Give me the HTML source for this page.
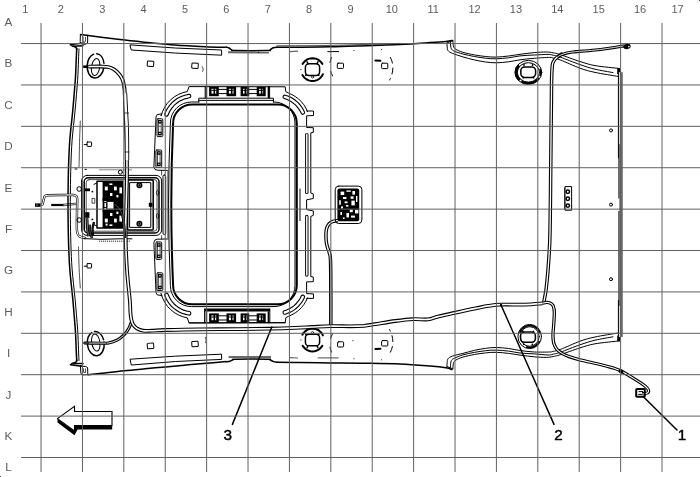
<!DOCTYPE html>
<html><head><meta charset="utf-8"><title>Headliner harness routing</title>
<style>
html,body{margin:0;padding:0;background:#fff;}
body{width:700px;height:477px;overflow:hidden;}
svg{display:block;filter:grayscale(1);}
.g{stroke:#606060;stroke-width:1;fill:none;}
.lab{font-family:"Liberation Sans",Arial,sans-serif;font-size:11px;fill:#5c5c5c;text-anchor:middle;opacity:0.999;}
.num{font-family:"Liberation Sans",Arial,sans-serif;font-size:15.3px;fill:#000;text-anchor:middle;stroke:#000;stroke-width:0.45;opacity:0.999;}
.k{stroke:#000;fill:none;stroke-width:1;stroke-linecap:round;stroke-linejoin:round;}
.t{stroke:#000;fill:none;stroke-width:0.7;stroke-linecap:round;stroke-linejoin:round;}
.h{stroke:#000;fill:none;stroke-width:1.5;stroke-linecap:round;stroke-linejoin:round;}
.b{stroke:#000;fill:none;stroke-width:2;stroke-linecap:round;stroke-linejoin:round;}
.hb{stroke:#000;fill:none;stroke-linecap:butt;stroke-linejoin:round;}
.hw{stroke:#fff;fill:none;stroke-linecap:butt;stroke-linejoin:round;}
.f{fill:#000;stroke:none;}
.wf{fill:#fff;stroke:#000;stroke-width:0.9;stroke-linejoin:round;}
.gy{stroke:#777;fill:none;stroke-width:1;}
</style></head><body>
<svg width="700" height="477" viewBox="0 0 700 477">
<rect width="700" height="477" fill="#fff"/>
<path class="h" d="M80.6,34.6 C87.2,35.4 108.4,38.2 120.0,39.6 C131.6,41.0 140.8,41.8 150.0,42.7 C159.2,43.6 165.8,44.3 175.0,45.0 C184.2,45.7 196.4,46.3 205.0,46.7 C213.6,47.1 223.1,47.2 226.7,47.3" />
<path class="h" d="M226.7,47.3 C227.1,47.4 228.1,47.5 229.0,48.0 C229.9,48.5 231.0,49.6 232.0,50.0 C233.0,50.4 229.2,50.5 235.0,50.6 C240.8,50.7 261.2,50.7 267.0,50.6 C272.8,50.5 269.1,50.4 270.0,50.0 C270.9,49.6 271.8,48.4 272.6,48.0 C273.4,47.6 274.3,47.5 275.0,47.4 C275.7,47.3 276.7,47.3 277.0,47.3" />
<path class="h" d="M277.0,47.3 C280.8,47.3 291.2,47.3 300.0,47.2 C308.8,47.1 320.0,47.0 330.0,46.8 C340.0,46.6 348.3,46.3 360.0,45.9 C371.7,45.5 388.3,44.9 400.0,44.4 C411.7,43.9 422.3,43.1 430.0,42.6 C437.7,42.1 442.2,41.8 446.0,41.4 C449.8,41.0 451.4,40.6 452.5,40.4" />
<path class="t" d="M277.0,45.8 C285.8,45.7 309.5,45.8 330.0,45.4 C350.5,45.0 388.3,43.7 400.0,43.4" />
<path class="k" d="M80.4,34.4 L80.2,41.5 Q80.5,44.5 83.5,44.4 L86,44 Q87.8,43.5 87.7,41 L87.6,35.2"/>
<path class="t" d="M83.2,37 Q82.6,40.5 83.6,42.6 Q85.4,42.8 85.6,40 L85.4,37.2"/>
<path class="h" d="M70.4,44.6 L81.6,43.2 M72.6,46.2 L83,45.8 M70.4,44.6 L72.6,46.2"/>
<path class="h" d="M76.9,49.4 Q76.8,47 73.4,46.2"/>
<path class="h" d="M76.7,48.8 C76.6,50.7 76.4,54.8 76.2,60.0 C76.0,65.2 75.9,71.7 75.3,80.0 C74.7,88.3 73.7,100.0 72.8,110.0 C71.9,120.0 70.5,130.8 69.8,140.0 C69.1,149.2 68.9,156.7 68.6,165.0 C68.3,173.3 68.2,183.4 68.1,190.0 C68.0,196.6 68.0,199.8 68.0,204.7 C68.0,209.6 68.0,212.8 68.1,219.4 C68.2,226.0 68.3,236.1 68.6,244.4 C68.9,252.7 69.1,260.2 69.8,269.4 C70.5,278.6 71.9,289.4 72.8,299.4 C73.7,309.4 74.7,321.1 75.3,329.4 C75.9,337.7 76.0,344.2 76.2,349.4 C76.4,354.6 76.6,358.7 76.7,360.6" />
<path class="k" d="M79.0,48.9 C78.9,50.8 78.7,54.9 78.5,60.1 C78.3,65.3 78.2,71.8 77.6,80.2 C77.0,88.5 76.0,100.2 75.1,110.2 C74.2,120.2 72.8,131.0 72.1,140.2 C71.4,149.3 71.2,156.8 70.9,165.1 C70.6,173.4 70.5,183.4 70.4,190.0 C70.3,196.6 70.3,199.8 70.3,204.7 C70.3,209.6 70.3,212.8 70.4,219.4 C70.5,226.0 70.6,236.0 70.9,244.3 C71.2,252.6 71.4,260.1 72.1,269.2 C72.8,278.4 74.2,289.2 75.1,299.2 C76.0,309.2 77.0,320.9 77.6,329.2 C78.2,337.6 78.3,344.1 78.5,349.3 C78.7,354.5 78.9,358.6 79.0,360.5" stroke-width="0.8"/>
<path class="t" d="M80.3,121.0 C80.2,124.2 79.8,133.5 79.6,140.0 C79.4,146.5 79.3,155.5 79.2,160.0 C79.1,164.5 79.0,165.8 79.0,167.0" />
<path class="t" d="M78.5,247.0 C78.6,250.8 78.9,263.2 79.2,270.0 C79.5,276.8 80.1,285.0 80.3,288.0" />
<path class="k" d="M80.4,366 L80.8,372.8 Q81,375 83.6,374.9 L87.8,374.6 L87.6,367.6 Q86,366 83,366.2 Z"/>
<path class="t" d="M83.4,368.6 L83.6,372.4 L85.6,372.4 L85.4,368.8"/>
<path class="h" d="M70.4,364.8 L81.6,366.2 M72.6,363.2 L83,363.6 M70.4,364.8 L72.6,363.2"/>
<path class="h" d="M76.9,360 Q76.8,362.4 73.4,363.2"/>
<path class="h" d="M88.0,374.8 C90.8,374.5 99.0,373.6 105.0,372.9 C111.0,372.2 117.6,371.4 124.3,370.7 C131.0,370.0 138.2,369.4 145.0,368.8 C151.8,368.2 158.6,367.5 165.4,366.9 C172.2,366.3 179.1,365.6 186.0,365.0 C192.9,364.4 199.9,363.8 206.6,363.2 C213.3,362.6 222.8,361.9 226.0,361.6" />
<path class="h" d="M226.0,361.8 C226.7,361.7 228.8,361.5 230.0,361.2 C231.2,360.9 232.0,360.1 233.0,359.8 C234.0,359.5 230.3,359.3 236.0,359.2 C241.7,359.1 261.3,359.1 267.0,359.2 C272.7,359.3 269.0,359.4 270.0,359.8 C271.0,360.2 271.8,361.0 273.0,361.4 C274.2,361.8 276.3,362.1 277.0,362.2" />
<path class="h" d="M277.0,362.2 C280.8,362.3 291.2,362.5 300.0,362.6 C308.8,362.7 320.0,362.9 330.0,363.0 C340.0,363.1 348.3,363.0 360.0,363.2 C371.7,363.4 388.3,363.5 400.0,364.0 C411.7,364.5 422.3,365.4 430.0,366.0 C437.7,366.6 442.3,367.2 446.0,367.8 C449.7,368.4 451.0,369.3 452.0,369.6" />
<path class="k" d="M130.3,44.9 Q175,48.6 221.6,50 L221.6,55.2 Q175,53.6 131.6,50 Z"/>
<path d="M228,52.2 L269,52.6" stroke="#666" stroke-width="2" fill="none"/>
<path class="k" d="M131.7,365 Q175,360.8 221.6,359.4 L221.6,354.2 Q175,355.6 130.4,359.2 Z"/>
<path d="M228.6,357.1 L271,357" stroke="#6a6a6a" stroke-width="2" fill="none"/>
<rect class="k" x="147.3" y="61.2" width="6.4" height="5.1" rx="0.8" transform="rotate(4 150.5 63.8)"/>
<rect class="k" x="191.8" y="63.2" width="6.4" height="5.2" rx="0.8" transform="rotate(4 195.0 65.8)"/>
<rect class="k" x="337.3" y="63.2" width="6.2" height="5.2" rx="0.8" transform="rotate(0 340.4 65.8)"/>
<rect class="k" x="381.6" y="63.2" width="6.2" height="5.4" rx="0.8" transform="rotate(0 384.7 65.9)"/>
<rect class="k" x="147.3" y="343.2" width="6.4" height="5.4" rx="0.8" transform="rotate(-4 150.5 345.9)"/>
<rect class="k" x="191.8" y="341.4" width="6.4" height="5.2" rx="0.8" transform="rotate(-4 195.0 344.0)"/>
<rect class="k" x="337.6" y="341.8" width="6.0" height="5.2" rx="0.8" transform="rotate(0 340.6 344.4)"/>
<rect class="k" x="381.6" y="340.6" width="6.2" height="5.4" rx="0.8" transform="rotate(0 384.7 343.3)"/>
<path class="t" d="M202.2,66.6 C202.4,67.0 203.1,68.2 203.2,69.0 C203.3,69.8 202.7,71.0 202.6,71.4" />
<path class="b" d="M375.4,60.6 L380.4,60.8"/>
<path class="k" stroke-dasharray="6 5" d="M390.4,57.4 Q395.8,68 389.6,80"/>
<path class="k" stroke-dasharray="5 9" d="M331.4,57.6 Q327,68 334.6,79.4"/>
<path class="k" d="M327.8,51.6 L338.6,51.6"/>
<path class="b" d="M375.4,349 L380.4,348.8"/>
<path class="k" stroke-dasharray="6 5" d="M390.4,352.2 Q395.8,341.6 389.6,329.6"/>
<path class="k" stroke-dasharray="5 9" d="M331.4,352 Q327,341.6 334.6,330.2"/>
<path d="M317.7,357.9 L338.6,357.9" stroke="#666" stroke-width="1.2"/>
<path d="M290,357.6 L298,358" stroke="#666" stroke-width="1.2"/>
<path d="M290,51.6 L298,51.2" stroke="#666" stroke-width="1.2"/>
<ellipse class="h" cx="95.6" cy="65.8" rx="8.4" ry="12.2" transform="rotate(5.5 95.6 65.8)" stroke-dasharray="45.5 3 13 2.5"/>
<ellipse class="k" stroke-width="1.2" cx="95.8" cy="67.0" rx="4.1" ry="8.6" transform="rotate(9 95.6 65.8)"/>
<ellipse class="h" cx="95.8" cy="343.7" rx="8.4" ry="12.2" transform="rotate(-5.5 95.8 343.7)" stroke-dasharray="45.5 3 13 2.5"/>
<ellipse class="k" stroke-width="1.2" cx="96.0" cy="342.5" rx="4.1" ry="8.6" transform="rotate(-9 95.8 343.7)"/>
<path d="M83.2,66.7 L89,66.7" stroke="#000" stroke-width="2.6"/>
<path class="hb" stroke-width="3.0999999999999996" d="M84.0,343.0 C86.7,343.0 95.9,343.2 100.0,343.2 C104.1,343.2 105.8,343.5 108.6,343.0 C111.4,342.5 114.3,341.6 117.0,340.2 C119.7,338.8 122.5,336.4 124.5,334.4 C126.5,332.4 127.9,330.0 129.0,328.0 C130.1,326.0 130.8,323.4 131.2,322.5"/>
<path class="hw" stroke-width="0.8999999999999999" d="M84.0,343.0 C86.7,343.0 95.9,343.2 100.0,343.2 C104.1,343.2 105.8,343.5 108.6,343.0 C111.4,342.5 114.3,341.6 117.0,340.2 C119.7,338.8 122.5,336.4 124.5,334.4 C126.5,332.4 127.9,330.0 129.0,328.0 C130.1,326.0 130.8,323.4 131.2,322.5"/>
<path d="M83.2,343 L107,343.2" stroke="#333" stroke-width="2.2"/>
<path d="M89,343.1 L106,343.2" stroke="#ccc" stroke-width="0.8"/>
<path class="b" stroke-width="1.8" d="M192.1,104.4 L277.8,104.4 A19,19 0 0 1 296.8,123.4 L296.8,285.3 A19,19 0 0 1 277.8,304.3 L192.1,304.3 A19,19 0 0 1 173.1,285.3 Q169.5,204.4 173.1,123.4 A19,19 0 0 1 192.1,104.4 Z"/>
<path class="k" stroke-width="0.9" d="M198.8,102 L191.4,102 A21,21 0 0 0 170.4,123 Q166.8,204.4 170.4,285.6 A21,21 0 0 0 191.4,306.6 L274,306.6 A21,21 0 0 0 295,285.6 L295,123 A21,21 0 0 0 274,102 L273.4,102"/>
<path class="k" d="M300.0,189.0 L300.0,220.6" />
<path class="k" d="M167.2,170.4 L157.2,170.2 L155.0,169.4 L153.9,167.0 L156.0,117.0 L157.2,114.6 L161.8,113.8 L161.0,116.0 L162.5,111.5 L164.6,107.3 L167.3,103.3 L170.5,99.9 L174.2,96.9 L178.3,94.5 L182.7,92.7 L187.3,91.5 L189.0,86.6 L285.2,86.8 L285.8,91.6 L288.3,93.0 L291.9,94.6 L295.3,96.6 L298.5,98.9 L301.3,101.7 L303.8,104.7 L305.9,108.1 L307.6,111.6 L306.6,111.0 L313.5,111.0 L313.5,115.5 L306.6,115.8 L306.6,127.5 L313.3,127.7 L313.3,132.4 L310.8,132.8 L310.8,193.0 L313.3,194.0 L313.3,198.5 L306.6,199.8 L306.6,204.7"/>
<path class="k" d="M167.2,239.0 L157.2,239.2 L155.0,240.0 L153.9,242.4 L156.0,292.4 L157.2,294.8 L161.8,295.6 L161.0,293.4 L162.5,297.9 L164.6,302.1 L167.3,306.1 L170.5,309.5 L174.2,312.5 L178.3,314.9 L182.7,316.7 L187.3,317.9 L189.0,322.8 L285.2,322.6 L285.8,317.8 L288.3,316.4 L291.9,314.8 L295.3,312.8 L298.5,310.5 L301.3,307.7 L303.8,304.7 L305.9,301.3 L307.6,297.8 L306.6,298.4 L313.5,298.4 L313.5,293.9 L306.6,293.6 L306.6,281.9 L313.3,281.7 L313.3,277.0 L310.8,276.6 L310.8,216.4 L313.3,215.4 L313.3,210.9 L306.6,209.6 L306.6,204.7"/>
<path d="M166.5,114.4 L167.7,111.5 L169.2,108.9 L171.0,106.4 L173.0,104.1 L175.3,102.1 L177.7,100.3 L180.4,98.8 L183.2,97.6 L186.1,96.7 L189.1,96.1" stroke="#000" stroke-width="4.6" fill="none" stroke-linecap="round"/>
<path d="M166.5,114.4 L167.7,111.5 L169.2,108.9 L171.0,106.4 L173.0,104.1 L175.3,102.1 L177.7,100.3 L180.4,98.8 L183.2,97.6 L186.1,96.7 L189.1,96.1" stroke="#fff" stroke-width="2.4" fill="none" stroke-linecap="round"/>
<path d="M166.5,295.0 L167.7,297.9 L169.2,300.5 L171.0,303.0 L173.0,305.3 L175.3,307.3 L177.7,309.1 L180.4,310.6 L183.2,311.8 L186.1,312.7 L189.1,313.3" stroke="#000" stroke-width="4.6" fill="none" stroke-linecap="round"/>
<path d="M166.5,295.0 L167.7,297.9 L169.2,300.5 L171.0,303.0 L173.0,305.3 L175.3,307.3 L177.7,309.1 L180.4,310.6 L183.2,311.8 L186.1,312.7 L189.1,313.3" stroke="#fff" stroke-width="2.4" fill="none" stroke-linecap="round"/>
<path d="M284.8,96.9 L287.1,97.7 L289.4,98.7 L291.5,99.8 L293.6,101.2 L295.5,102.7 L297.3,104.4 L298.9,106.3 L300.4,108.2 L301.7,110.3 L302.8,112.5" stroke="#000" stroke-width="4.6" fill="none" stroke-linecap="round"/>
<path d="M284.8,96.9 L287.1,97.7 L289.4,98.7 L291.5,99.8 L293.6,101.2 L295.5,102.7 L297.3,104.4 L298.9,106.3 L300.4,108.2 L301.7,110.3 L302.8,112.5" stroke="#fff" stroke-width="2.4" fill="none" stroke-linecap="round"/>
<path d="M284.8,312.5 L287.1,311.7 L289.4,310.7 L291.5,309.6 L293.6,308.2 L295.5,306.7 L297.3,305.0 L298.9,303.1 L300.4,301.2 L301.7,299.1 L302.8,296.9" stroke="#000" stroke-width="4.6" fill="none" stroke-linecap="round"/>
<path d="M284.8,312.5 L287.1,311.7 L289.4,310.7 L291.5,309.6 L293.6,308.2 L295.5,306.7 L297.3,305.0 L298.9,303.1 L300.4,301.2 L301.7,299.1 L302.8,296.9" stroke="#fff" stroke-width="2.4" fill="none" stroke-linecap="round"/>
<path d="M306.8,134.6 L306.8,192.4" stroke="#000" stroke-width="3.4" stroke-linecap="round" fill="none"/>
<path d="M306.8,134.6 L306.8,192.4" stroke="#fff" stroke-width="1.5" stroke-linecap="round" fill="none"/>
<path d="M306.8,216.4 L306.8,275" stroke="#000" stroke-width="3.4" stroke-linecap="round" fill="none"/>
<path d="M306.8,216.4 L306.8,275" stroke="#fff" stroke-width="1.5" stroke-linecap="round" fill="none"/>
<rect class="k" stroke-width="1.1" x="163" y="175" width="2.7" height="59.5" rx="1.3"/>
<path class="t" d="M167.9,170.4 L167.9,239.0" />
<path class="t" d="M161.6,170.4 L161.6,175.0" />
<path class="t" d="M161.6,235.6 L161.6,239.0" />
<rect class="k" x="157" y="118.8" width="5.8" height="17.8" rx="1" fill="#fff"/>
<rect class="f" x="158" y="120.0" width="3.8" height="3.6"/>
<rect class="f" x="158" y="131.79999999999998" width="3.8" height="3.6"/>
<rect x="159.2" y="121.2" width="1.4" height="1" fill="#fff"/>
<rect x="159.2" y="133.0" width="1.4" height="1" fill="#fff"/>
<path class="t" d="M158.6,123.6 L158.6,131.79999999999998 M161.20000000000002,123.6 L161.20000000000002,131.79999999999998"/>
<rect class="k" x="157" y="272.79999999999995" width="5.8" height="17.8" rx="1" fill="#fff"/>
<rect class="f" x="158" y="273.99999999999994" width="3.8" height="3.6"/>
<rect class="f" x="158" y="285.79999999999995" width="3.8" height="3.6"/>
<rect x="159.2" y="275.19999999999993" width="1.4" height="1" fill="#fff"/>
<rect x="159.2" y="286.99999999999994" width="1.4" height="1" fill="#fff"/>
<path class="t" d="M158.6,277.59999999999997 L158.6,285.79999999999995 M161.20000000000002,277.59999999999997 L161.20000000000002,285.79999999999995"/>
<rect class="k" x="155.9" y="150" width="5.8" height="17.4" rx="1" fill="#fff"/>
<rect class="f" x="156.9" y="151.2" width="3.8" height="3.6"/>
<rect class="f" x="156.9" y="162.6" width="3.8" height="3.6"/>
<rect x="158.1" y="152.4" width="1.4" height="1" fill="#fff"/>
<rect x="158.1" y="163.8" width="1.4" height="1" fill="#fff"/>
<path class="t" d="M157.5,154.8 L157.5,162.6 M160.10000000000002,154.8 L160.10000000000002,162.6"/>
<rect class="k" x="155.9" y="241.99999999999997" width="5.8" height="17.4" rx="1" fill="#fff"/>
<rect class="f" x="156.9" y="243.19999999999996" width="3.8" height="3.6"/>
<rect class="f" x="156.9" y="254.59999999999997" width="3.8" height="3.6"/>
<rect x="158.1" y="244.39999999999998" width="1.4" height="1" fill="#fff"/>
<rect x="158.1" y="255.79999999999998" width="1.4" height="1" fill="#fff"/>
<path class="t" d="M157.5,246.79999999999998 L157.5,254.59999999999997 M160.10000000000002,246.79999999999998 L160.10000000000002,254.59999999999997"/>
<path class="k" d="M198.8,102.2 L198.8,98.2 L205.2,98.2 L205.2,86.6 M269.6,86.6 L269.6,98.2 L273.4,98.2 L273.4,102.2"/>
<path class="k" d="M205.2,98.2 L269.6,98.2 M198.8,100.4 L273.4,100.4"/>
<path class="h" d="M206.4,87 L206.4,97.4 M268.4,87 L268.4,97.4"/>
<rect class="f" x="209.1" y="86.8" width="9.7" height="9.4"/>
<rect x="211.5" y="88.8" width="4.7" height="4.8" fill="#fff"/>
<path d="M214.3,88.2 L214.3,94.60000000000001" stroke="#000" stroke-width="1.6"/>
<path d="M211.5,90.4 L216.20000000000002,90.4" stroke="#000" stroke-width="1"/>
<rect class="f" x="226.5" y="86.8" width="9.6" height="9.4"/>
<rect x="228.9" y="88.8" width="4.6" height="4.8" fill="#fff"/>
<path d="M231.7,88.2 L231.7,94.60000000000001" stroke="#000" stroke-width="1.6"/>
<path d="M228.9,90.4 L233.5,90.4" stroke="#000" stroke-width="1"/>
<rect class="f" x="240.6" y="86.8" width="8.6" height="9.4"/>
<rect x="243.0" y="88.8" width="3.6" height="4.8" fill="#fff"/>
<path d="M245.3,88.2 L245.3,94.60000000000001" stroke="#000" stroke-width="1.6"/>
<path d="M243.0,90.4 L246.6,90.4" stroke="#000" stroke-width="1"/>
<rect class="f" x="256.7" y="86.8" width="9.0" height="9.4"/>
<rect x="259.09999999999997" y="88.8" width="4.0" height="4.8" fill="#fff"/>
<path d="M261.6,88.2 L261.6,94.60000000000001" stroke="#000" stroke-width="1.6"/>
<path d="M259.09999999999997,90.4 L263.09999999999997,90.4" stroke="#000" stroke-width="1"/>
<path class="k" d="M218.8,89.4 L226.5,89.4 M218.8,93.60000000000001 L226.5,93.60000000000001"/>
<path class="k" d="M249.2,89.4 L256.7,89.4 M249.2,93.60000000000001 L256.7,93.60000000000001"/>
<path class="k" d="M204.6,309 L204.6,322.8 M269.8,309 L269.8,322.8"/>
<path class="h" d="M206.4,322.4 L206.4,312.0 M268.4,322.4 L268.4,312.0"/>
<rect class="f" x="209.1" y="313.4" width="9.7" height="9.4"/>
<rect x="211.5" y="315.4" width="4.7" height="4.8" fill="#fff"/>
<path d="M214.3,314.79999999999995 L214.3,321.19999999999993" stroke="#000" stroke-width="1.6"/>
<path d="M211.5,316.99999999999994 L216.20000000000002,316.99999999999994" stroke="#000" stroke-width="1"/>
<rect class="f" x="226.5" y="313.4" width="9.6" height="9.4"/>
<rect x="228.9" y="315.4" width="4.6" height="4.8" fill="#fff"/>
<path d="M231.7,314.79999999999995 L231.7,321.19999999999993" stroke="#000" stroke-width="1.6"/>
<path d="M228.9,316.99999999999994 L233.5,316.99999999999994" stroke="#000" stroke-width="1"/>
<rect class="f" x="240.6" y="313.4" width="8.6" height="9.4"/>
<rect x="243.0" y="315.4" width="3.6" height="4.8" fill="#fff"/>
<path d="M245.3,314.79999999999995 L245.3,321.19999999999993" stroke="#000" stroke-width="1.6"/>
<path d="M243.0,316.99999999999994 L246.6,316.99999999999994" stroke="#000" stroke-width="1"/>
<rect class="f" x="256.7" y="313.4" width="9.0" height="9.4"/>
<rect x="259.09999999999997" y="315.4" width="4.0" height="4.8" fill="#fff"/>
<path d="M261.6,314.79999999999995 L261.6,321.19999999999993" stroke="#000" stroke-width="1.6"/>
<path d="M259.09999999999997,316.99999999999994 L263.09999999999997,316.99999999999994" stroke="#000" stroke-width="1"/>
<path class="k" d="M218.8,315.79999999999995 L226.5,315.79999999999995 M218.8,319.99999999999994 L226.5,319.99999999999994"/>
<path class="k" d="M249.2,315.79999999999995 L256.7,315.79999999999995 M249.2,319.99999999999994 L256.7,319.99999999999994"/>
<path d="M204.6,310 L270,310" stroke="#000" stroke-width="3" fill="none"/>
<path class="k" d="M189,323 L285.2,322.8"/>
<rect class="h" stroke-width="1.3" x="305.4" y="63.8" width="14.2" height="11.6" rx="3.6"/>
<path class="b" d="M302.6,63.9 L303.8,62.3 L305.2,60.9 L306.8,59.7 L308.6,58.9 L310.5,58.4 L312.5,58.2 L314.5,58.4 L316.4,58.9 L318.2,59.7 L319.8,60.9 L321.2,62.3 L322.4,63.9" stroke-width="2.2"/>
<path class="b" d="M302.4,75.0 L303.6,76.7 L305.1,78.2 L306.8,79.5 L308.7,80.4 L310.8,80.9 L312.9,81.0 L315.0,80.7 L317.0,80.1 L318.9,79.1 L320.5,77.7 L321.9,76.1 L322.9,74.2" stroke-width="2"/>
<path class="h" d="M307.9,63.8 L307.1,61.8 M317.1,63.8 L317.9,61.8"/>
<circle class="f" cx="305.9" cy="75.19999999999999" r="0.9"/><circle class="f" cx="318.7" cy="75.19999999999999" r="0.9"/>
<circle class="t" cx="312.5" cy="77.0" r="1.1"/>
<circle class="f" cx="300.9" cy="69.6" r="0.6"/>
<rect class="h" stroke-width="1.3" x="305.4" y="334.2" width="14.2" height="11.6" rx="3.6"/>
<path class="b" d="M302.6,345.7 L303.8,347.3 L305.2,348.7 L306.8,349.9 L308.6,350.7 L310.5,351.2 L312.5,351.4 L314.5,351.2 L316.4,350.7 L318.2,349.9 L319.8,348.7 L321.2,347.3 L322.4,345.7" stroke-width="2.2"/>
<path class="b" d="M302.4,334.6 L303.6,332.9 L305.1,331.4 L306.8,330.1 L308.7,329.2 L310.8,328.7 L312.9,328.6 L315.0,328.9 L317.0,329.5 L318.9,330.5 L320.5,331.9 L321.9,333.5 L322.9,335.4" stroke-width="2"/>
<path class="h" d="M307.9,345.8 L307.1,347.8 M317.1,345.8 L317.9,347.8"/>
<circle class="f" cx="305.9" cy="334.4" r="0.9"/><circle class="f" cx="318.7" cy="334.4" r="0.9"/>
<circle class="t" cx="312.5" cy="332.6" r="1.1"/>
<circle class="f" cx="300.9" cy="340" r="0.6"/>
<path class="hb" stroke-width="3.5" d="M338.0,220.6 C337.2,220.7 334.4,220.9 333.0,221.4 C331.6,221.9 330.4,222.6 329.4,223.6 C328.4,224.6 327.6,225.8 327.0,227.4 C326.4,229.0 326.1,230.7 326.0,233.0 C325.9,235.3 326.0,238.7 326.2,241.0 C326.4,243.3 326.9,245.0 327.4,247.0 C327.9,249.0 328.9,250.8 329.4,253.0 C329.9,255.2 330.3,253.8 330.5,260.0 C330.7,266.2 330.8,279.2 330.8,290.0 C330.9,300.8 330.8,319.2 330.8,325.0"/>
<path class="hw" stroke-width="1.3000000000000003" d="M338.0,220.6 C337.2,220.7 334.4,220.9 333.0,221.4 C331.6,221.9 330.4,222.6 329.4,223.6 C328.4,224.6 327.6,225.8 327.0,227.4 C326.4,229.0 326.1,230.7 326.0,233.0 C325.9,235.3 326.0,238.7 326.2,241.0 C326.4,243.3 326.9,245.0 327.4,247.0 C327.9,249.0 328.9,250.8 329.4,253.0 C329.9,255.2 330.3,253.8 330.5,260.0 C330.7,266.2 330.8,279.2 330.8,290.0 C330.9,300.8 330.8,319.2 330.8,325.0"/>
<rect class="k" x="335.2" y="186.1" width="26.7" height="37.4" rx="3.6" fill="#fff"/>
<rect class="f" x="337.4" y="188.4" width="21.8" height="32.8" rx="2"/>
<rect x="340.6" y="191.6" width="3.6" height="3.4" fill="#fff"/>
<rect x="346.4" y="190.4" width="4.4" height="1.4" fill="#fff"/>
<rect x="352.4" y="191" width="2.6" height="3.6" fill="#fff"/>
<rect x="343" y="197" width="3.4" height="2" fill="#fff"/>
<rect x="350.6" y="196.4" width="3" height="2.4" fill="#fff"/>
<rect x="339.2" y="200.2" width="1.6" height="4.6" fill="#fff"/>
<rect x="344.6" y="201.4" width="3" height="1.8" fill="#fff"/>
<rect x="351.4" y="200.6" width="3.4" height="4.8" fill="#fff"/>
<rect x="346" y="205" width="2.4" height="1.6" fill="#fff"/>
<rect x="341" y="206.4" width="2" height="2" fill="#fff"/>
<rect x="349.8" y="209.6" width="3" height="2.6" fill="#fff"/>
<rect x="355" y="210" width="3.4" height="3.4" fill="#fff"/>
<rect x="346.4" y="213" width="2.6" height="4.4" fill="#fff"/>
<rect x="340.4" y="212" width="1.6" height="3" fill="#fff"/>
<rect x="351" y="215.6" width="4" height="2" fill="#fff"/>
<rect x="343" y="217.4" width="1.6" height="1.6" fill="#fff"/>
<rect x="356" y="196" width="1.4" height="6" fill="#fff"/>
<path class="hb" stroke-width="2.4" d="M40.5,205.0 C40.8,204.9 41.9,205.2 42.4,204.4 C42.9,203.6 43.2,201.3 43.6,200.0 C44.0,198.7 44.1,197.2 44.8,196.4 C45.4,195.6 45.0,195.4 47.5,195.2 C50.0,195.0 55.8,195.0 60.0,195.0 C64.2,195.0 70.3,194.8 73.0,195.0 C75.7,195.2 75.3,195.3 76.0,196.0 C76.7,196.7 77.0,196.3 77.2,199.0 C77.4,201.7 77.0,206.7 77.0,212.0 C77.0,217.3 76.6,227.0 77.0,231.0 C77.4,235.0 77.9,235.0 79.4,236.2 C80.9,237.4 84.9,237.9 86.0,238.2"/>
<path class="hw" stroke-width="1.1" d="M40.5,205.0 C40.8,204.9 41.9,205.2 42.4,204.4 C42.9,203.6 43.2,201.3 43.6,200.0 C44.0,198.7 44.1,197.2 44.8,196.4 C45.4,195.6 45.0,195.4 47.5,195.2 C50.0,195.0 55.8,195.0 60.0,195.0 C64.2,195.0 70.3,194.8 73.0,195.0 C75.7,195.2 75.3,195.3 76.0,196.0 C76.7,196.7 77.0,196.3 77.2,199.0 C77.4,201.7 77.0,206.7 77.0,212.0 C77.0,217.3 76.6,227.0 77.0,231.0 C77.4,235.0 77.9,235.0 79.4,236.2 C80.9,237.4 84.9,237.9 86.0,238.2"/>
<rect class="f" x="35" y="203.4" width="5.6" height="3.4"/>
<rect x="36.4" y="204.4" width="1.2" height="1.2" fill="#aaa"/>
<path d="M51.2,205 L63.4,205" stroke="#000" stroke-width="2.2"/>
<path class="t" d="M63.4,204.2 L75.6,203.2 M63.4,205.8 L75.6,204.6"/>
<rect class="k" x="81.6" y="175.4" width="80" height="60" rx="5.5" fill="#fff"/>
<rect class="h" x="84.2" y="177.8" width="74.8" height="55.2" rx="4"/>
<rect class="t" x="86.2" y="179.6" width="70.8" height="51.6" rx="3"/>
<circle class="k" cx="79.2" cy="189" r="2.3" fill="#fff"/>
<circle class="k" cx="79.2" cy="220" r="2.3" fill="#fff"/>
<ellipse class="t" cx="157.6" cy="192.7" rx="1.2" ry="2.4" fill="#fff"/>
<ellipse class="t" cx="157.6" cy="216" rx="1.2" ry="2.4" fill="#fff"/>
<path d="M99.4,169.8 L132,169.8" stroke="#333" stroke-width="1" stroke-dasharray="1.2 0.8"/>
<circle class="k" cx="120.4" cy="172.2" r="2" fill="#fff"/>
<path class="k" d="M75,169 L77,169 M85,169.4 L86.4,169.4"/>
<rect class="h" stroke-width="1.6" x="127.6" y="180" width="25.6" height="50" rx="1"/>
<rect class="k" stroke-width="1.2" x="130" y="182.6" width="20.8" height="44.8"/>
<circle class="f" cx="139.4" cy="185.2" r="3"/>
<circle cx="139.4" cy="185.2" r="1.3" fill="none" stroke="#999" stroke-width="0.7"/>
<circle class="f" cx="139.4" cy="223.8" r="3"/>
<circle cx="139.4" cy="223.8" r="1.3" fill="none" stroke="#999" stroke-width="0.7"/>
<rect class="f" x="148.8" y="202.8" width="3.6" height="4"/>
<rect class="h" x="97" y="181.2" width="25.6" height="46.8" fill="#fff"/>
<rect class="f" x="102.6" y="181.6" width="20" height="19.4"/>
<rect class="f" x="102.6" y="209.6" width="20" height="18.4"/>
<rect class="f" x="102.6" y="198" width="1.6" height="14"/>
<rect class="k" x="104.2" y="202.4" width="2.6" height="5.2" fill="#fff"/>
<rect class="f" x="114" y="198" width="8.6" height="14"/>
<rect class="k" x="107.2" y="201.4" width="6.8" height="7.8" fill="#fff"/>
<rect x="104.8" y="186.6" width="3" height="3.8" fill="#fff"/>
<rect x="114" y="186.6" width="2.8" height="3.8" fill="#fff"/>
<rect x="119.4" y="187.4" width="2.6" height="6" fill="#fff"/>
<rect x="109.4" y="183.4" width="3" height="1.6" fill="#fff"/>
<rect x="110" y="193" width="2.4" height="3" fill="#fff"/>
<rect x="116.4" y="195" width="2" height="2.4" fill="#fff"/>
<rect x="104.8" y="218.6" width="3" height="3.8" fill="#fff"/>
<rect x="114" y="218.6" width="2.8" height="3.8" fill="#fff"/>
<rect x="119.4" y="215.6" width="2.6" height="6" fill="#fff"/>
<rect x="109.4" y="224.4" width="3" height="1.6" fill="#fff"/>
<rect x="110" y="213" width="2.4" height="3" fill="#fff"/>
<rect x="116.4" y="211.6" width="2" height="2.4" fill="#fff"/>
<rect x="105.6" y="223.6" width="2" height="2" fill="#fff"/>
<rect class="t" x="92.4" y="198.4" width="2.4" height="4.8" fill="#fff"/>
<path d="M84,189.8 L90,189.8" stroke="#000" stroke-width="2.8"/>
<circle class="f" cx="92.4" cy="191.6" r="0.9"/>
<rect class="f" x="85.2" y="212.2" width="4.2" height="5.6"/>
<circle class="f" cx="92.4" cy="219.4" r="0.9"/>
<path class="k" d="M94,184.4 L96.6,183 M94,224.6 L96.6,226"/>
<path class="hb" stroke-width="2.6999999999999997" d="M87.0,217.6 C87.1,219.0 87.2,222.9 87.4,226.0 C87.6,229.1 88.2,234.7 88.4,236.4"/>
<path class="hw" stroke-width="0.5" d="M87.0,217.6 C87.1,219.0 87.2,222.9 87.4,226.0 C87.6,229.1 88.2,234.7 88.4,236.4"/>
<path class="hb" stroke-width="2.5" d="M89.6,224.6 C89.7,225.8 89.6,229.8 90.0,232.0 C90.4,234.2 91.7,237.0 92.0,238.0"/>
<path class="hw" stroke-width="0.30000000000000027" d="M89.6,224.6 C89.7,225.8 89.6,229.8 90.0,232.0 C90.4,234.2 91.7,237.0 92.0,238.0"/>
<path class="hb" stroke-width="2.3" d="M94.0,222.0 C93.8,223.0 92.8,225.7 92.6,228.0 C92.4,230.3 92.9,234.7 93.0,236.0"/>
<path class="hw" stroke-width="0.10000000000000009" d="M94.0,222.0 C93.8,223.0 92.8,225.7 92.6,228.0 C92.4,230.3 92.9,234.7 93.0,236.0"/>
<path class="k" d="M84,238.6 Q100,240 120,238.8 L132,238.8"/>
<path d="M99,241.2 L130,241.2" stroke="#333" stroke-width="1" stroke-dasharray="1.2 0.8"/>
<path class="hb" stroke-width="3.8" d="M88.4,66.6 C90.3,66.6 96.7,66.4 100.0,66.5 C103.3,66.6 105.7,66.5 108.0,67.0 C110.3,67.5 112.1,68.2 114.0,69.4 C115.9,70.7 118.0,72.6 119.5,74.5 C121.0,76.4 122.2,78.4 123.0,81.0 C123.8,83.6 124.2,85.2 124.6,90.0 C125.0,94.8 125.1,101.7 125.4,110.0 C125.7,118.3 126.3,130.0 126.6,140.0 C126.9,150.0 127.0,160.0 127.0,170.0 C127.0,180.0 126.6,189.2 126.4,200.0 C126.2,210.8 125.5,223.3 125.6,235.0 C125.7,246.7 126.3,259.2 127.0,270.0 C127.7,280.8 129.2,293.0 129.8,300.0 C130.4,307.0 130.2,308.8 130.4,312.0 C130.6,315.2 130.8,316.9 131.2,319.0 C131.6,321.1 132.1,322.8 133.0,324.4 C133.9,326.0 135.1,327.3 136.8,328.4 C138.5,329.4 140.5,330.3 143.0,330.7 C145.5,331.1 148.2,330.8 152.0,330.7 C155.8,330.6 157.7,330.2 165.7,330.0 C173.7,329.8 187.6,329.5 200.0,329.4 C212.4,329.2 228.3,329.2 240.0,329.1 C251.7,329.0 260.8,328.9 270.0,328.7 C279.2,328.5 288.0,328.2 295.0,327.9 C302.0,327.6 306.1,327.3 312.0,327.0 C317.9,326.7 324.2,326.2 330.5,326.1 C336.8,326.0 344.4,326.3 350.0,326.3 C355.6,326.3 359.8,326.2 364.0,325.9 C368.2,325.5 369.9,325.0 375.1,324.2 C380.3,323.4 389.0,321.8 395.3,321.0 C401.6,320.2 407.4,319.5 412.9,319.2 C418.3,318.9 423.8,319.8 428.0,319.4 C432.2,319.0 433.4,317.7 438.0,316.6 C442.6,315.5 449.3,314.1 455.6,312.7 C461.9,311.3 470.2,309.5 475.7,308.4 C481.1,307.3 484.1,306.5 488.3,305.9 C492.5,305.3 494.8,304.8 500.9,304.6 C507.0,304.4 518.0,304.8 525.0,304.6 C532.0,304.4 539.7,303.6 542.6,303.4"/>
<path class="hw" stroke-width="1.6" d="M88.4,66.6 C90.3,66.6 96.7,66.4 100.0,66.5 C103.3,66.6 105.7,66.5 108.0,67.0 C110.3,67.5 112.1,68.2 114.0,69.4 C115.9,70.7 118.0,72.6 119.5,74.5 C121.0,76.4 122.2,78.4 123.0,81.0 C123.8,83.6 124.2,85.2 124.6,90.0 C125.0,94.8 125.1,101.7 125.4,110.0 C125.7,118.3 126.3,130.0 126.6,140.0 C126.9,150.0 127.0,160.0 127.0,170.0 C127.0,180.0 126.6,189.2 126.4,200.0 C126.2,210.8 125.5,223.3 125.6,235.0 C125.7,246.7 126.3,259.2 127.0,270.0 C127.7,280.8 129.2,293.0 129.8,300.0 C130.4,307.0 130.2,308.8 130.4,312.0 C130.6,315.2 130.8,316.9 131.2,319.0 C131.6,321.1 132.1,322.8 133.0,324.4 C133.9,326.0 135.1,327.3 136.8,328.4 C138.5,329.4 140.5,330.3 143.0,330.7 C145.5,331.1 148.2,330.8 152.0,330.7 C155.8,330.6 157.7,330.2 165.7,330.0 C173.7,329.8 187.6,329.5 200.0,329.4 C212.4,329.2 228.3,329.2 240.0,329.1 C251.7,329.0 260.8,328.9 270.0,328.7 C279.2,328.5 288.0,328.2 295.0,327.9 C302.0,327.6 306.1,327.3 312.0,327.0 C317.9,326.7 324.2,326.2 330.5,326.1 C336.8,326.0 344.4,326.3 350.0,326.3 C355.6,326.3 359.8,326.2 364.0,325.9 C368.2,325.5 369.9,325.0 375.1,324.2 C380.3,323.4 389.0,321.8 395.3,321.0 C401.6,320.2 407.4,319.5 412.9,319.2 C418.3,318.9 423.8,319.8 428.0,319.4 C432.2,319.0 433.4,317.7 438.0,316.6 C442.6,315.5 449.3,314.1 455.6,312.7 C461.9,311.3 470.2,309.5 475.7,308.4 C481.1,307.3 484.1,306.5 488.3,305.9 C492.5,305.3 494.8,304.8 500.9,304.6 C507.0,304.4 518.0,304.8 525.0,304.6 C532.0,304.4 539.7,303.6 542.6,303.4"/>
<path class="hb" stroke-width="2.5" d="M114.6,204.4 C115.2,204.8 116.9,205.8 118.0,207.0 C119.1,208.2 120.2,209.8 121.0,211.6 C121.8,213.4 122.4,215.3 123.0,218.0 C123.6,220.7 124.1,224.7 124.4,228.0 C124.7,231.3 124.9,236.3 125.0,238.0"/>
<path class="hw" stroke-width="0.30000000000000027" d="M114.6,204.4 C115.2,204.8 116.9,205.8 118.0,207.0 C119.1,208.2 120.2,209.8 121.0,211.6 C121.8,213.4 122.4,215.3 123.0,218.0 C123.6,220.7 124.1,224.7 124.4,228.0 C124.7,231.3 124.9,236.3 125.0,238.0"/>
<path class="k" d="M452.9,41.0 C452.9,41.6 453.0,43.5 453.2,44.5 C453.4,45.5 453.3,46.4 453.8,47.2 C454.3,48.0 454.5,48.5 456.0,49.4 C457.5,50.2 459.8,51.4 462.9,52.3 C465.9,53.2 470.5,54.2 474.3,54.9 C478.1,55.6 482.1,56.1 485.7,56.5 C489.3,56.9 492.2,57.2 496.0,57.1 C499.8,57.0 504.6,56.5 508.6,56.0 C512.6,55.5 515.7,54.9 520.0,54.3 C524.3,53.7 529.9,53.0 534.3,52.6 C538.7,52.2 543.2,52.0 546.3,52.0 C549.4,52.0 550.6,52.3 553.0,52.8 C555.4,53.2 556.0,53.2 560.5,54.7 C565.0,56.2 574.2,59.7 580.0,61.5 C585.8,63.3 588.4,64.4 595.0,65.6 C601.6,66.8 615.5,68.0 619.6,68.5" />
<path class="k" d="M446.9,43.2 C446.9,43.8 447.0,45.8 447.2,47.0 C447.4,48.2 447.1,49.5 448.0,50.6 C448.9,51.7 450.1,52.4 452.6,53.4 C455.1,54.4 459.3,55.8 462.9,56.9 C466.5,58.0 470.5,59.0 474.3,59.9 C478.1,60.8 482.1,61.5 485.7,62.0 C489.3,62.5 492.2,62.8 496.0,62.8 C499.8,62.8 504.6,62.3 508.6,61.8 C512.6,61.3 515.7,60.4 520.0,59.8 C524.3,59.2 529.3,58.7 534.3,58.3 C539.2,57.9 546.6,57.4 549.7,57.4 C552.8,57.4 551.2,57.6 553.0,58.0 C554.8,58.4 556.0,58.3 560.5,60.0 C565.0,61.7 574.2,66.1 580.0,68.2 C585.8,70.3 588.7,71.0 595.0,72.4 C601.3,73.8 614.2,75.7 618.0,76.4" />
<path class="k" d="M450.4,42.4 C450.4,43.0 450.5,44.9 450.7,46.0 C450.9,47.1 450.8,48.0 451.4,48.9 C452.0,49.8 452.5,50.4 454.4,51.2 C456.3,52.1 459.6,53.1 462.9,54.0 C466.2,54.9 470.5,55.8 474.3,56.5 C478.1,57.2 482.1,57.8 485.7,58.2 C489.3,58.6 492.2,58.9 496.0,58.8 C499.8,58.7 504.6,58.3 508.6,57.8 C512.6,57.3 515.7,56.4 520.0,55.9 C524.3,55.4 529.6,55.2 534.3,55.0 C539.0,54.8 544.9,54.4 548.0,54.4 C551.1,54.4 550.9,54.7 553.0,55.2 C555.1,55.7 556.0,55.6 560.5,57.2 C565.0,58.8 574.2,62.6 580.0,64.6 C585.8,66.6 589.5,67.9 595.0,69.2 C600.5,70.5 610.0,72.0 613.0,72.6" />
<path class="k" d="M446.9,42.9 L452.9,40.6"/>
<rect class="f" x="617.2" y="68.4" width="3.3" height="5.6"/>
<path class="k" d="M452.9,368.4 C452.9,367.8 453.0,365.9 453.2,364.9 C453.4,363.9 453.3,363.0 453.8,362.2 C454.3,361.4 454.5,360.9 456.0,360.0 C457.5,359.1 459.8,358.0 462.9,357.1 C465.9,356.2 470.5,355.2 474.3,354.5 C478.1,353.8 482.1,353.3 485.7,352.9 C489.3,352.5 492.2,352.2 496.0,352.3 C499.8,352.4 504.6,352.9 508.6,353.4 C512.6,353.9 515.7,354.5 520.0,355.1 C524.3,355.7 529.9,356.4 534.3,356.8 C538.7,357.2 543.2,357.4 546.3,357.4 C549.4,357.4 550.6,357.0 553.0,356.6 C555.4,356.1 556.0,356.1 560.5,354.7 C565.0,353.2 574.2,349.7 580.0,347.9 C585.8,346.1 588.4,345.0 595.0,343.8 C601.6,342.6 615.5,341.4 619.6,340.9" />
<path class="k" d="M446.9,366.2 C446.9,365.6 447.0,363.6 447.2,362.4 C447.4,361.2 447.1,359.9 448.0,358.8 C448.9,357.7 450.1,356.9 452.6,356.0 C455.1,355.1 459.3,354.3 462.9,353.4 C466.5,352.5 470.5,351.2 474.3,350.4 C478.1,349.5 482.1,348.8 485.7,348.3 C489.3,347.8 492.2,347.5 496.0,347.5 C499.8,347.5 504.6,348.0 508.6,348.5 C512.6,349.0 515.7,349.9 520.0,350.5 C524.3,351.1 529.3,351.7 534.3,352.0 C539.2,352.2 546.6,352.1 549.7,352.0 C552.8,351.9 551.2,351.8 553.0,351.4 C554.8,351.0 556.0,351.1 560.5,349.4 C565.0,347.7 574.2,343.3 580.0,341.2 C585.8,339.1 588.7,338.4 595.0,337.0 C601.3,335.6 614.2,333.7 618.0,333.0" />
<path class="k" d="M450.4,367.0 C450.4,366.4 450.5,364.5 450.7,363.4 C450.9,362.3 450.8,361.4 451.4,360.5 C452.0,359.6 452.5,359.1 454.4,358.2 C456.3,357.3 459.6,355.9 462.9,354.9 C466.2,353.9 470.5,353.1 474.3,352.4 C478.1,351.7 482.1,351.1 485.7,350.7 C489.3,350.3 492.2,350.0 496.0,350.1 C499.8,350.2 504.6,350.6 508.6,351.1 C512.6,351.6 515.7,352.5 520.0,353.0 C524.3,353.5 529.6,353.6 534.3,353.9 C539.0,354.2 544.9,354.9 548.0,355.0 C551.1,355.1 550.9,354.7 553.0,354.2 C555.1,353.7 556.0,353.8 560.5,352.2 C565.0,350.6 574.2,346.8 580.0,344.8 C585.8,342.8 589.5,341.5 595.0,340.2 C600.5,338.9 610.0,337.4 613.0,336.8" />
<path class="k" d="M446.9,366.5 L452.9,368.8"/>
<rect class="f" x="617.2" y="335.6" width="3.2" height="5.6"/>
<rect x="618" y="72.2" width="4.8" height="264.8" fill="#6c6c6c"/>
<rect x="617.6" y="198.5" width="1.7" height="12.5" fill="#fff"/>
<rect x="618.9" y="72.2" width="1.1" height="72" fill="#ddd"/>
<rect x="617.9" y="72.2" width="1.1" height="86" fill="#111"/>
<rect x="618.9" y="306" width="1.1" height="31" fill="#ddd"/>
<rect x="617.9" y="300" width="1.1" height="37" fill="#111"/>
<circle class="k" cx="611" cy="130.4" r="1.5" fill="#fff"/>
<circle class="k" cx="611" cy="204.6" r="1.5" fill="#fff"/>
<circle class="k" cx="611" cy="279.2" r="1.5" fill="#fff"/>
<rect class="k" x="565.4" y="186.6" width="6.2" height="23.6"/>
<path class="t" d="M564.6,188 L564.6,209.6"/>
<circle class="h" cx="567.8" cy="191.8" r="1.7" fill="#fff"/>
<circle class="h" cx="567.8" cy="198.8" r="1.7" fill="#fff"/>
<circle class="h" cx="567.8" cy="205.6" r="1.7" fill="#fff"/>
<ellipse class="k" stroke-width="1.1" cx="528.4" cy="72.4" rx="13.4" ry="12"/>
<ellipse class="k" stroke-width="1.1" cx="528.4" cy="72.4" rx="11.1" ry="9.7"/>
<path d="M519.0,65.4 L518.2,66.3 L517.6,67.3 L517.0,68.4 L516.6,69.5 L516.3,70.6 L516.2,71.7 L516.2,72.9 L516.3,74.0 L516.5,75.1 L516.9,76.2 L517.5,77.3 L518.1,78.3 L518.9,79.2 L519.7,80.1" stroke="#000" stroke-width="2.8" fill="none"/>
<path d="M521.4,81.3 L522.6,82.0 L523.9,82.5 L525.3,82.9 L526.7,83.1 L528.2,83.2 L529.6,83.2 L531.1,83.0 L532.4,82.6 L533.8,82.1 L535.0,81.5 L536.2,80.8 L537.3,79.9 L538.2,78.9 L539.0,77.8" stroke="#000" stroke-width="2.2" fill="none"/>
<path d="M539.9,76.1 L540.1,75.6 L540.3,75.1 L540.4,74.5 L540.5,74.0 L540.6,73.5 L540.6,72.9 L540.6,72.4 L540.6,71.9 L540.6,71.3 L540.5,70.8 L540.4,70.3 L540.3,69.7 L540.1,69.2 L539.9,68.7" stroke="#000" stroke-width="1.6" fill="none"/>
<rect class="h" stroke-width="1.3" x="520.8" y="67.0" width="14.8" height="10.4" rx="3.8"/>
<circle class="f" cx="524.0" cy="65.0" r="0.9"/><circle class="f" cx="532.6" cy="65.0" r="0.9"/>
<circle class="f" cx="523.2" cy="77.8" r="0.9"/><circle class="f" cx="533.6" cy="77.8" r="0.9"/>
<ellipse class="k" stroke-width="1.1" cx="529.7" cy="336.5" rx="11.8" ry="12.1"/>
<ellipse class="k" stroke-width="1.1" cx="529.7" cy="336.5" rx="9.5" ry="9.8"/>
<path d="M519.7,332.8 L520.5,331.0 L521.5,329.5 L522.9,328.1 L524.4,327.0 L526.1,326.2 L527.9,325.7 L529.7,325.6 L531.5,325.7 L533.3,326.2 L535.0,327.0 L536.5,328.1 L537.9,329.5 L538.9,331.0 L539.7,332.8" stroke="#000" stroke-width="1.7" fill="none"/>
<path d="M526.1,346.8 L527.1,347.1 L528.2,347.3 L529.4,347.4 L530.5,347.4 L531.6,347.3 L532.7,347.0 L533.8,346.6 L534.8,346.1 L535.8,345.5 L536.6,344.8 L537.5,344.0 L538.2,343.1 L538.8,342.2 L539.4,341.1" stroke="#000" stroke-width="1.9" fill="none"/>
<rect class="h" stroke-width="1.3" x="520.6" y="331.9" width="14.8" height="10.4" rx="3.8"/>
<circle class="f" cx="523.8" cy="344.3" r="0.9"/><circle class="f" cx="532.4" cy="344.3" r="0.9"/>
<circle class="f" cx="523.0" cy="331.5" r="0.9"/><circle class="f" cx="533.4" cy="331.5" r="0.9"/>
<path class="hb" stroke-width="3.5" d="M563.0,53.4 C562.5,53.8 560.9,54.6 559.7,55.5 C558.5,56.4 556.7,57.4 555.6,58.6 C554.5,59.8 553.6,61.3 553.0,62.6 C552.4,63.9 552.4,63.6 552.2,66.5 C552.0,69.4 551.7,74.4 551.6,80.0 C551.5,85.6 551.5,90.0 551.4,100.0 C551.3,110.0 551.1,126.7 551.0,140.0 C550.9,153.3 550.7,166.7 550.6,180.0 C550.5,193.3 550.4,209.2 550.2,220.0 C550.0,230.8 550.0,236.7 549.6,245.0 C549.2,253.3 548.6,262.5 548.0,270.0 C547.4,277.5 546.7,284.7 546.0,290.0 C545.3,295.3 544.2,300.0 543.8,302.0"/>
<path class="hw" stroke-width="1.3000000000000003" d="M563.0,53.4 C562.5,53.8 560.9,54.6 559.7,55.5 C558.5,56.4 556.7,57.4 555.6,58.6 C554.5,59.8 553.6,61.3 553.0,62.6 C552.4,63.9 552.4,63.6 552.2,66.5 C552.0,69.4 551.7,74.4 551.6,80.0 C551.5,85.6 551.5,90.0 551.4,100.0 C551.3,110.0 551.1,126.7 551.0,140.0 C550.9,153.3 550.7,166.7 550.6,180.0 C550.5,193.3 550.4,209.2 550.2,220.0 C550.0,230.8 550.0,236.7 549.6,245.0 C549.2,253.3 548.6,262.5 548.0,270.0 C547.4,277.5 546.7,284.7 546.0,290.0 C545.3,295.3 544.2,300.0 543.8,302.0"/>
<path class="hb" stroke-width="3.0999999999999996" d="M557.5,57.0 C558.1,56.6 559.4,55.6 561.0,54.9 C562.6,54.2 565.1,53.4 567.1,52.9 C569.1,52.4 570.9,52.2 573.0,52.0 C575.1,51.8 575.9,51.7 579.7,51.4 C583.5,51.1 590.8,50.5 595.7,50.0 C600.7,49.5 605.9,48.7 609.4,48.2 C612.9,47.7 614.6,47.4 617.0,47.0 C619.4,46.6 622.8,46.1 624.0,45.9"/>
<path class="hw" stroke-width="0.8999999999999999" d="M557.5,57.0 C558.1,56.6 559.4,55.6 561.0,54.9 C562.6,54.2 565.1,53.4 567.1,52.9 C569.1,52.4 570.9,52.2 573.0,52.0 C575.1,51.8 575.9,51.7 579.7,51.4 C583.5,51.1 590.8,50.5 595.7,50.0 C600.7,49.5 605.9,48.7 609.4,48.2 C612.9,47.7 614.6,47.4 617.0,47.0 C619.4,46.6 622.8,46.1 624.0,45.9"/>
<ellipse class="f" cx="627" cy="46.4" rx="3.7" ry="2.8" transform="rotate(-15 627 46.4)"/>
<circle cx="628.8" cy="46.6" r="0.9" fill="#ddd"/>
<path class="hb" stroke-width="3.3" d="M542.6,303.2 C543.2,303.1 545.2,302.4 546.4,302.4 C547.6,302.3 548.9,302.4 550.0,302.9 C551.1,303.4 552.1,304.1 552.8,305.2 C553.5,306.3 553.9,308.0 554.1,309.6 C554.4,311.2 554.4,312.4 554.3,315.0 C554.2,317.6 553.9,322.0 553.7,325.0 C553.5,328.0 553.1,330.5 553.0,333.0 C552.9,335.5 553.0,338.0 553.2,340.0 C553.4,342.0 553.7,343.4 554.4,345.0 C555.1,346.6 555.9,348.2 557.2,349.6 C558.5,351.0 560.4,352.4 562.4,353.6 C564.4,354.8 566.2,355.6 569.0,356.6 C571.8,357.6 573.8,358.3 579.0,359.6 C584.2,360.9 594.9,363.2 600.4,364.5 C605.9,365.8 608.6,366.6 612.0,367.6 C615.4,368.7 616.6,368.8 620.5,370.8 C624.4,372.8 631.5,377.1 635.6,379.6 C639.7,382.1 642.9,384.3 645.0,386.0 C647.1,387.7 648.0,388.8 648.4,390.0 C648.8,391.2 648.3,392.4 647.4,393.0 C646.5,393.6 643.9,393.7 643.2,393.8"/>
<path class="hw" stroke-width="1.1" d="M542.6,303.2 C543.2,303.1 545.2,302.4 546.4,302.4 C547.6,302.3 548.9,302.4 550.0,302.9 C551.1,303.4 552.1,304.1 552.8,305.2 C553.5,306.3 553.9,308.0 554.1,309.6 C554.4,311.2 554.4,312.4 554.3,315.0 C554.2,317.6 553.9,322.0 553.7,325.0 C553.5,328.0 553.1,330.5 553.0,333.0 C552.9,335.5 553.0,338.0 553.2,340.0 C553.4,342.0 553.7,343.4 554.4,345.0 C555.1,346.6 555.9,348.2 557.2,349.6 C558.5,351.0 560.4,352.4 562.4,353.6 C564.4,354.8 566.2,355.6 569.0,356.6 C571.8,357.6 573.8,358.3 579.0,359.6 C584.2,360.9 594.9,363.2 600.4,364.5 C605.9,365.8 608.6,366.6 612.0,367.6 C615.4,368.7 616.6,368.8 620.5,370.8 C624.4,372.8 631.5,377.1 635.6,379.6 C639.7,382.1 642.9,384.3 645.0,386.0 C647.1,387.7 648.0,388.8 648.4,390.0 C648.8,391.2 648.3,392.4 647.4,393.0 C646.5,393.6 643.9,393.7 643.2,393.8"/>
<ellipse class="f" cx="621" cy="371.4" rx="2.6" ry="2" transform="rotate(25 621 371.4)"/>
<circle class="f" cx="501" cy="305" r="1.2"/>
<rect class="b" x="636.2" y="389" width="8.6" height="7.8" rx="0.8" fill="#fff"/>
<path class="k" d="M639,391.6 L642.6,391.6 M638.6,394.4 L642.4,394.4 M642.6,391.6 L642.6,393"/>
<path class="h" stroke-width="1.3" d="M643.4,396.8 L677,430"/>
<path class="h" stroke-width="1.3" d="M501,305 L554,424.4"/>
<path class="h" stroke-width="1.3" d="M271.8,327 L232.4,424.4"/>
<text class="num" x="682" y="440.4">1</text>
<text class="num" x="558.4" y="440.4">2</text>
<text class="num" x="227.8" y="440.4">3</text>
<path class="f" d="M57.5,418.8 L74.5,431.2 L74.5,425.6 L112.2,425.6 L112.2,429.6 L77.6,429.6 L74.5,435.2 L57.5,422.6 Z"/>
<path d="M57.5,418.6 L74.5,406.4 L74.5,411.5 L112,411.5 L112,425.5 L74.5,425.5 L74.5,431 Z" fill="#fff" stroke="#000" stroke-width="1.1" stroke-linejoin="miter"/>
<rect class="k" x="87" y="142.0" width="4.6" height="4.4" rx="0.6"/>
<path class="k" d="M84.2,144.6 L87,144.6"/>
<rect class="k" x="87" y="263.6" width="4.6" height="4.4" rx="0.6"/>
<path class="k" d="M84.2,266.2 L87,266.2"/>
<path class="hb" stroke-width="4.4" d="M125.0,93.0 C125.1,95.8 125.5,104.7 125.8,110.0 C126.1,115.3 126.4,120.0 126.6,125.0 C126.8,130.0 126.8,134.2 126.9,140.0 C127.0,145.8 127.0,156.7 127.0,160.0"/>
<path class="hw" stroke-width="2.6" d="M125.0,93.0 C125.1,95.8 125.5,104.7 125.8,110.0 C126.1,115.3 126.4,120.0 126.6,125.0 C126.8,130.0 126.8,134.2 126.9,140.0 C127.0,145.8 127.0,156.7 127.0,160.0"/>
<path class="t" d="M124.6,113 L128.6,113 M125,152 L129,152"/>
<rect x="699" y="0" width="1" height="1" fill="#444"/><rect x="0" y="476" width="1" height="1" fill="#444"/>
<path class="t" d="M205.2,337.2 C205.3,337.7 206.0,339.1 206.1,340.0 C206.2,340.9 205.7,342.3 205.6,342.8" />
<circle class="f" cx="354" cy="50.6" r="0.55"/>
<circle class="f" cx="381.4" cy="49.6" r="0.55"/>
<circle class="f" cx="354" cy="358.8" r="0.55"/>
<circle class="f" cx="381.4" cy="359.8" r="0.55"/>
<circle class="f" cx="353" cy="340.6" r="0.55"/>
<circle class="f" cx="258.6" cy="52.4" r="0.55"/>
<g class="g">
<line x1="41.05" y1="23" x2="41.05" y2="472"/>
<line x1="82.45" y1="23" x2="82.45" y2="472"/>
<line x1="123.84" y1="23" x2="123.84" y2="472"/>
<line x1="165.24" y1="23" x2="165.24" y2="472"/>
<line x1="206.64" y1="23" x2="206.64" y2="472"/>
<line x1="248.03" y1="23" x2="248.03" y2="472"/>
<line x1="289.43" y1="23" x2="289.43" y2="472"/>
<line x1="330.83" y1="23" x2="330.83" y2="472"/>
<line x1="372.23" y1="23" x2="372.23" y2="472"/>
<line x1="413.62" y1="23" x2="413.62" y2="472"/>
<line x1="455.02" y1="23" x2="455.02" y2="472"/>
<line x1="496.42" y1="23" x2="496.42" y2="472"/>
<line x1="537.81" y1="23" x2="537.81" y2="472"/>
<line x1="579.21" y1="23" x2="579.21" y2="472"/>
<line x1="620.61" y1="23" x2="620.61" y2="472"/>
<line x1="662.0" y1="23" x2="662.0" y2="472"/>
<line x1="21" y1="43.55" x2="700" y2="43.55"/>
<line x1="21" y1="84.94" x2="700" y2="84.94"/>
<line x1="21" y1="126.34" x2="700" y2="126.34"/>
<line x1="21" y1="167.73" x2="700" y2="167.73"/>
<line x1="21" y1="209.13" x2="700" y2="209.13"/>
<line x1="21" y1="250.52" x2="700" y2="250.52"/>
<line x1="21" y1="291.91" x2="700" y2="291.91"/>
<line x1="21" y1="333.31" x2="700" y2="333.31"/>
<line x1="21" y1="374.7" x2="700" y2="374.7"/>
<line x1="21" y1="416.1" x2="700" y2="416.1"/>
<line x1="21" y1="457.49" x2="700" y2="457.49"/>
</g>
<g class="lab">
<text x="25.3" y="13">1</text>
<text x="60.9" y="13">2</text>
<text x="102.2" y="13">3</text>
<text x="143.6" y="13">4</text>
<text x="185.0" y="13">5</text>
<text x="226.3" y="13">6</text>
<text x="267.7" y="13">7</text>
<text x="309.1" y="13">8</text>
<text x="350.5" y="13">9</text>
<text x="391.8" y="13">10</text>
<text x="433.2" y="13">11</text>
<text x="474.6" y="13">12</text>
<text x="515.9" y="13">13</text>
<text x="557.3" y="13">14</text>
<text x="598.7" y="13">15</text>
<text x="640.0" y="13">16</text>
<text x="677.6" y="13">17</text>
<text x="8.5" y="26.0" font-size="11.7">A</text>
<text x="8.5" y="67.4" font-size="11.7">B</text>
<text x="8.5" y="108.8" font-size="11.7">C</text>
<text x="8.5" y="150.2" font-size="11.7">D</text>
<text x="8.5" y="191.6" font-size="11.7">E</text>
<text x="8.5" y="233.0" font-size="11.7">F</text>
<text x="8.5" y="274.4" font-size="11.7">G</text>
<text x="8.5" y="315.8" font-size="11.7">H</text>
<text x="8.5" y="357.2" font-size="11.7">I</text>
<text x="8.5" y="398.6" font-size="11.7">J</text>
<text x="8.5" y="440.0" font-size="11.7">K</text>
<text x="8.5" y="471.0" font-size="11.7">L</text>
</g>
</svg>
</body></html>
